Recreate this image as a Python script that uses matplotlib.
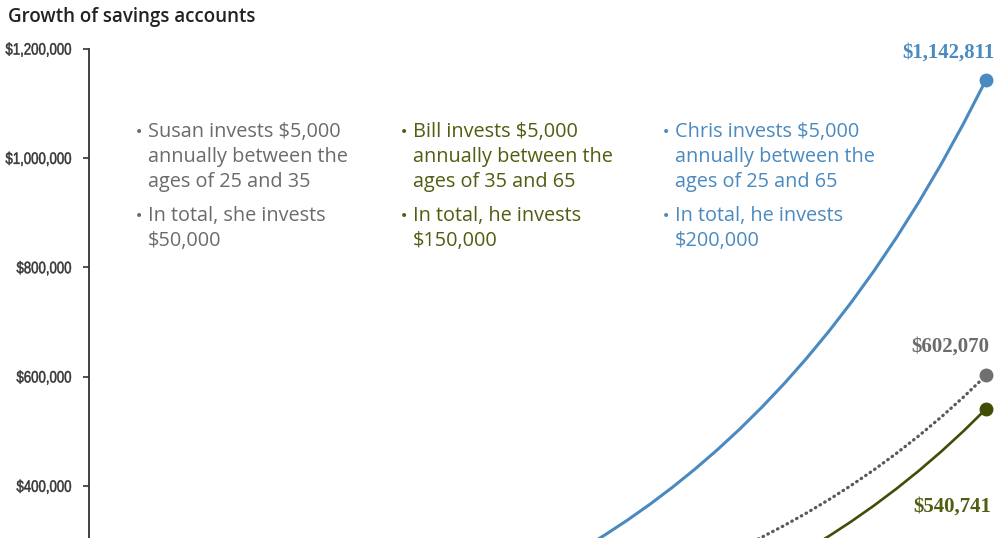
import numpy as np
import matplotlib.pyplot as plt
from matplotlib.textpath import TextPath
from matplotlib.patches import PathPatch
from matplotlib.font_manager import FontProperties
from matplotlib.transforms import Affine2D

ages = list(range(25, 66))

susan = [5350, 11075, 17200, 23754, 30766, 38270, 46299, 54890, 64082, 73918,
         79092, 84628, 90552, 96891, 103673, 110930, 118696, 127004, 135894, 145407,
         155585, 166476, 178129, 190598, 203940, 218216, 233491, 249836, 267324, 286037,
         306059, 327484, 350407, 374936, 401181, 429264, 459312, 491464, 525866, 562686,
         602070]

bill_ages = list(range(35, 66))
bill = [5298, 10966, 17031, 23521, 30464, 37895, 45845, 54352, 63454, 73194,
        83615, 94765, 106696, 119463, 133122, 147739, 163378, 180112, 198017, 217177,
        237677, 259612, 283081, 308195, 335066, 363818, 394583, 427502, 462724, 500412,
        540741]

chris = [5350, 11075, 17200, 23754, 30766, 38270, 46299, 54890, 64082, 73918,
         84390, 95594, 107583, 120412, 134137, 148825, 164541, 181356, 199348, 218601,
         239200, 261241, 284825, 310061, 337062, 365955, 396869, 429948, 465341, 503214,
         543736, 587096, 633488, 683131, 736247, 793082, 853895, 918966, 988590, 1063098,
         1142811]

yticks = [400000, 600000, 800000, 1000000, 1200000]
ytick_labels = ['$400,000', '$600,000', '$800,000', '$1,000,000', '$1,200,000']

blue = '#4a8ac0'
grey = '#6a6b6d'
olive = '#3f4d06'
olive_text = '#4f5e10'

W, H = 1001, 538
fig = plt.figure(figsize=(W / 100, H / 100), dpi=100)
fig.patch.set_facecolor('white')

ax = fig.add_axes([89 / W, 0, (W - 89) / W, 1])
ax.set_xlim(25, 65.67)
ax.set_ylim(304666, 1289112)

ax.plot(ages, chris, color=blue, lw=2.2, solid_capstyle='round')
ax.plot(ages, susan, color='#58595b', lw=2.3, linestyle=(0, (0.2, 1.5)),
        dash_capstyle='round')
ax.plot(bill_ages, bill, color=olive, lw=1.9, solid_capstyle='round')

ax.plot([65], [chris[-1]], 'o', color=blue, ms=9, clip_on=False)
ax.plot([65], [susan[-1]], 'o', color='#707072', ms=9, clip_on=False)
ax.plot([65], [bill[-1]], 'o', color=olive, ms=9, clip_on=False)

for s in ['top', 'right', 'bottom']:
    ax.spines[s].set_visible(False)
ax.spines['left'].set_color('#333333')
ax.spines['left'].set_linewidth(1.3)
ax.spines['left'].set_bounds(0, 1200000)
ax.set_xticks([])
ax.set_yticks(yticks)
ax.set_yticklabels([])
ax.tick_params(axis='y', length=4, width=1.2, color='#333333')

# narrow tick labels: squeeze the glyph outlines horizontally
fp = FontProperties(family='Liberation Sans')
for v, lab in zip(yticks, ytick_labels):
    tp = TextPath((0, 0), lab, size=16.5, prop=fp)
    bb = tp.get_extents()
    ydisp = ax.transData.transform((30, v))[1]
    tr = Affine2D().translate(-bb.x1, -5.9).scale(0.8, 1).translate(71, ydisp)
    fig.add_artist(PathPatch(tp, transform=tr, facecolor='#333333',
                             edgecolor='#333333', lw=0.35))

def px(x, y):
    return x / W, 1 - y / H

fig.text(*px(8, 17), 'Growth of savings accounts', fontsize=13.5, fontweight='semibold',
         color='#222222', va='center', ha='left', family=['Open Sans', 'DejaVu Sans'])

blocks = [
    (135, grey, [['Susan invests $5,000', 'annually between the', 'ages of 25 and 35'],
                 ['In total, she invests', '$50,000']]),
    (400, olive_text, [['Bill invests $5,000', 'annually between the', 'ages of 35 and 65'],
                       ['In total, he invests', '$150,000']]),
    (662, blue, [['Chris invests $5,000', 'annually between the', 'ages of 25 and 65'],
                 ['In total, he invests', '$200,000']]),
]
starts = [132, 216]
for bx, col, paras in blocks:
    for y0, lines in zip(starts, paras):
        fig.text(*px(bx, y0), '\u2022', fontsize=10, color=col, va='center', ha='left')
        for i, line in enumerate(lines):
            fig.text(*px(bx + 13, y0 + 25 * i), line, fontsize=14.3, color=col,
                     va='center', ha='left', family=['Open Sans', 'DejaVu Sans'],
                     fontweight='medium')

lab_font = ['Liberation Serif', 'DejaVu Serif']
fig.text(*px(948, 53), '$1,142,811', fontsize=15, color=blue, ha='center', va='center',
         family=lab_font, fontweight='bold')
fig.text(*px(950, 347), '$602,070', fontsize=15, color=grey, ha='center', va='center',
         family=lab_font, fontweight='bold')
fig.text(*px(952, 507), '$540,741', fontsize=15, color=olive_text, ha='center', va='center',
         family=lab_font, fontweight='bold')

fig.savefig('out.png', dpi=100, facecolor='white')
